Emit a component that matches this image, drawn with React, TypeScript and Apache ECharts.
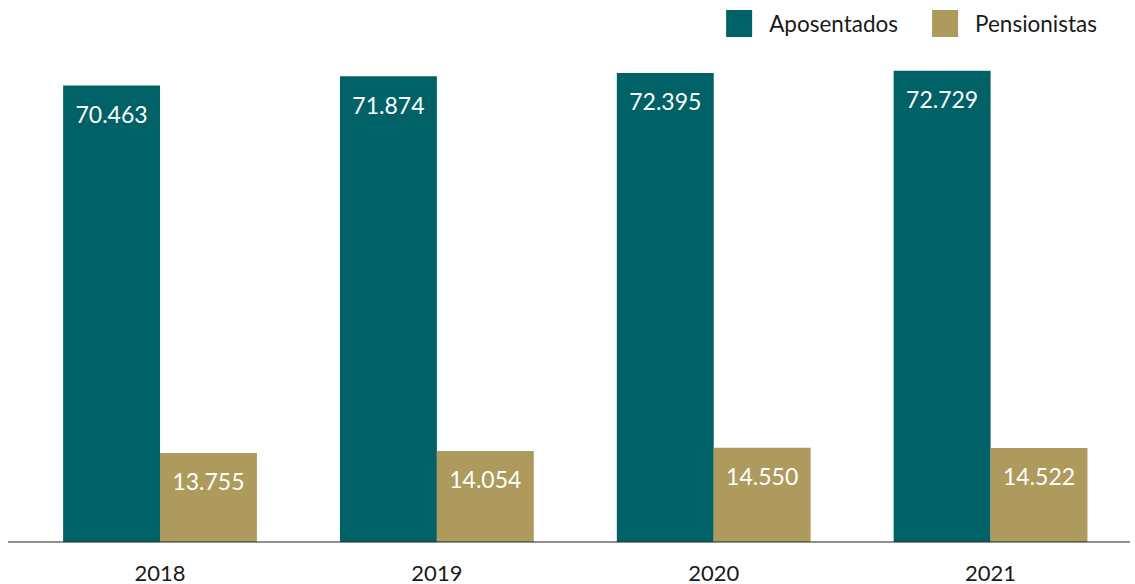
import React, { useEffect, useRef } from "react";
import * as echarts from "echarts";

const categories = ["2018", "2019", "2020", "2021"];
const aposentados = [70463, 71874, 72395, 72729];
const pensionistas = [13755, 14054, 14550, 14522];
const seriesNames = ["Aposentados", "Pensionistas"];

const fmt = (v: number) => v.toString().replace(/\B(?=(\d{3})+(?!\d))/g, ".");

export default function App() {
  const ref = useRef<HTMLDivElement>(null);
  useEffect(() => {
    document.body.style.margin = "0";
    const chart = echarts.init(ref.current!, undefined, { renderer: "svg" });
    const label = {
      show: true,
      position: "insideTop",
      distance: 17,
      color: "#ffffff",
      fontFamily: "Lato",
      fontSize: 23,
      formatter: (p: any) => fmt(p.value),
    };
    chart.setOption({
      animation: false,
      textStyle: { fontFamily: "Lato" },
      legend: {
        top: 5,
        right: 33,
        itemWidth: 26,
        itemHeight: 27,
        itemGap: 34,
        icon: "rect",
        textStyle: { fontFamily: "Lato", fontSize: 22.5, color: "#1a1a1a", padding: [0, 0, 0, 12] },
        data: seriesNames,
      },
      grid: { left: 21.6, right: 6, top: 23.7, bottom: 42, containLabel: false },
      xAxis: {
        type: "category",
        data: categories,
        axisLine: { show: false },
        axisTick: { show: false },
        axisLabel: { fontFamily: "Lato", fontSize: 22, color: "#1a1a1a", margin: 19 },
      },
      yAxis: {
        type: "value",
        min: 0,
        max: 80000,
        show: false,
        splitLine: { show: false },
      },
      graphic: [
        {
          type: "line",
          shape: { x1: 8, y1: 542, x2: 1130, y2: 542 },
          style: { stroke: "#222222", lineWidth: 1.2 },
          z: 10,
        },
      ],
      series: [
        {
          name: seriesNames[0],
          type: "bar",
          data: aposentados,
          itemStyle: { color: "#006266" },
          barGap: "0%",
          barCategoryGap: "30%",
          label,
        },
        {
          name: seriesNames[1],
          type: "bar",
          data: pensionistas,
          itemStyle: { color: "#AD9A5C" },
          barGap: "0%",
          barCategoryGap: "30%",
          label,
        },
      ],
    });
    return () => chart.dispose();
  }, []);
  return <div ref={ref} style={{ width: 1135, height: 584 }} />;
}
